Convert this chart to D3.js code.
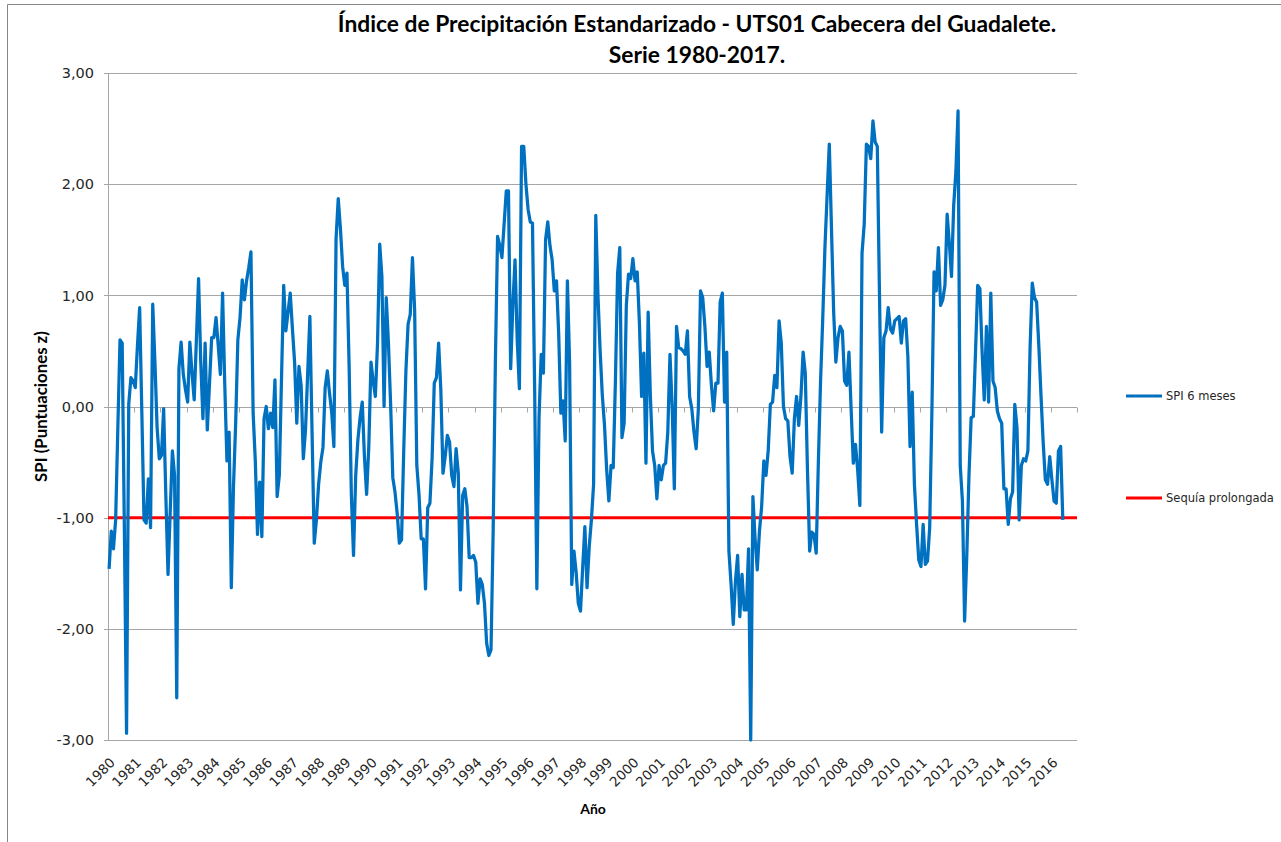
<!DOCTYPE html>
<html>
<head>
<meta charset="utf-8">
<script src="https://cdn.jsdelivr.net/npm/d3@7/dist/d3.min.js"></script>
<style>
  body { margin: 0; background: #fff; }
  text { font-family: "DejaVu Sans", sans-serif; fill: #262626; }
  .bold { font-family: Lato, "DejaVu Sans", sans-serif; font-weight: bold; fill: #000; }
</style>
</head>
<body>
<svg id="chart" width="1281" height="842"></svg>
<script>
// tick labels of the category axis (one label per year, 12 months each)
var years = ["1980","1981","1982","1983","1984","1985","1986","1987","1988","1989",
             "1990","1991","1992","1993","1994","1995","1996","1997","1998","1999",
             "2000","2001","2002","2003","2004","2005","2006","2007","2008","2009",
             "2010","2011","2012","2013","2014","2015","2016"];

var yTicks = [-3, -2, -1, 0, 1, 2, 3];

// SPI 6 meses, monthly values (one row per year)
var spi6 = [
  -1.46, -1.12, -1.28, -1.02, -0.20, 0.60, 0.57, -1.10, -2.94, 0.02, 0.26, 0.23,
  0.17, 0.55, 0.89, -0.05, -1.02, -1.05, -0.65, -1.09, 0.92, 0.40, -0.19, -0.47,
  -0.44, -0.02, -0.80, -1.51, -0.95, -0.40, -0.62, -2.62, 0.34, 0.58, 0.29, 0.15,
  0.04, 0.58, 0.30, 0.06, 0.60, 1.15, 0.40, -0.11, 0.57, -0.21, 0.20, 0.62,
  0.62, 0.80, 0.55, 0.29, 1.02, 0.20, -0.49, -0.23, -1.63, -0.72, -0.15, 0.60,
  0.80, 1.14, 0.96, 1.13, 1.25, 1.39, -0.06, -0.49, -1.15, -0.68, -1.17, -0.11,
  0.00, -0.20, -0.06, -0.19, 0.24, -0.81, -0.62, 0.25, 1.09, 0.68, 0.85, 1.02,
  0.70, 0.40, -0.15, 0.36, 0.19, -0.47, -0.21, 0.30, 0.81, -0.23, -1.23, -1.02,
  -0.70, -0.50, -0.37, 0.17, 0.32, 0.12, -0.05, -0.36, 1.51, 1.87, 1.60, 1.26,
  1.09, 1.20, 0.35, -0.79, -1.34, -0.62, -0.30, -0.10, 0.04, -0.45, -0.79, -0.36,
  0.40, 0.23, 0.09, 0.57, 1.46, 1.17, 0.00, 0.98, 0.57, 0.02, -0.64, -0.77,
  -0.96, -1.23, -1.20, -0.40, 0.32, 0.74, 0.83, 1.34, 0.87, -0.53, -0.79, -1.19,
  -1.19, -1.64, -0.91, -0.87, -0.47, 0.21, 0.26, 0.57, 0.15, -0.60, -0.45, -0.26,
  -0.32, -0.62, -0.72, -0.38, -0.60, -1.65, -0.80, -0.74, -0.90, -1.36, -1.36, -1.34,
  -1.40, -1.77, -1.55, -1.60, -1.77, -2.13, -2.24, -2.19, -1.10, 0.40, 1.53, 1.45,
  1.34, 1.64, 1.94, 1.94, 0.34, 0.91, 1.32, 0.60, 0.16, 2.34, 2.34, 2.00,
  1.77, 1.66, 1.65, 0.15, -1.64, -0.10, 0.47, 0.30, 1.50, 1.66, 1.45, 1.32,
  1.04, 1.13, 0.66, -0.06, 0.05, -0.31, 1.13, 0.40, -1.60, -1.30, -1.49, -1.77,
  -1.84, -1.45, -1.08, -1.63, -1.26, -1.02, -0.70, 1.72, 1.00, 0.50, 0.10, -0.17,
  -0.57, -0.85, -0.53, -0.55, 0.23, 1.20, 1.43, -0.28, -0.15, 0.91, 1.19, 1.15,
  1.33, 1.13, 1.21, 0.75, 0.09, 0.48, -0.51, 0.85, 0.10, -0.40, -0.53, -0.83,
  -0.53, -0.66, -0.53, -0.51, -0.23, 0.47, 0.00, -0.74, 0.72, 0.53, 0.52, 0.50,
  0.47, 0.68, 0.09, -0.02, -0.23, -0.38, -0.02, 1.04, 0.98, 0.72, 0.36, 0.49,
  0.19, -0.04, 0.21, 0.21, 0.94, 1.02, 0.04, 0.49, -1.30, -1.60, -1.96, -1.57,
  -1.34, -1.89, -1.51, -1.83, -1.83, -1.28, -3.00, -0.81, -1.19, -1.47, -1.12, -0.90,
  -0.49, -0.62, -0.40, 0.02, 0.04, 0.28, 0.17, 0.77, 0.57, 0.00, -0.11, -0.13,
  -0.45, -0.60, -0.11, 0.09, -0.17, 0.09, 0.49, 0.30, -0.57, -1.30, -1.13, -1.15,
  -1.32, -0.49, 0.23, 0.79, 1.43, 1.90, 2.36, 1.60, 0.85, 0.40, 0.62, 0.72,
  0.68, 0.23, 0.19, 0.49, -0.02, -0.51, -0.34, -0.57, -0.89, 1.38, 1.64, 2.36,
  2.34, 2.23, 2.57, 2.38, 2.34, 1.00, -0.23, 0.62, 0.68, 0.89, 0.70, 0.66,
  0.77, 0.79, 0.81, 0.57, 0.77, 0.79, 0.45, -0.36, 0.13, -0.70, -1.06, -1.38,
  -1.44, -1.06, -1.42, -1.39, -1.09, -0.06, 1.21, 1.04, 1.43, 0.91, 0.96, 1.09,
  1.73, 1.47, 1.17, 1.81, 2.11, 2.66, -0.53, -0.85, -1.93, -1.34, -0.62, -0.10,
  -0.09, 0.49, 1.09, 1.06, 0.50, 0.06, 0.72, 0.04, 1.02, 0.23, 0.17, -0.04,
  -0.11, -0.15, -0.74, -0.74, -1.06, -0.83, -0.77, 0.02, -0.19, -1.02, -0.53, -0.47,
  -0.49, -0.40, 0.53, 1.11, 0.98, 0.94, 0.55, 0.10, -0.32, -0.66, -0.70, -0.45,
  -0.66, -0.85, -0.87, -0.40, -0.36, -1.02
];

var sequia = -1;   // umbral de sequía prolongada

var seriesNames = ["SPI 6 meses", "Sequía prolongada"];
var seriesColors = ["#0070c0", "#ff0000"];

var titleLines = ["Índice de Precipitación Estandarizado - UTS01 Cabecera del Guadalete.",
                  "Serie 1980-2017."];

var Chart = (function(){
    var width = 1281, height = 842;
    var left = 108, right = 1077, top = 73, bottom = 740;
    var gridColor = "#a6a6a6";
    var svg, x, y, months;

    function fitText(sel, target){
        var fs = parseFloat(sel.style("font-size"));
        var len = sel.node().getComputedTextLength();
        sel.style("font-size", (fs * target / len) + "px");
    }

    function frame(){
        svg = d3.select("#chart");
        svg.append("rect")
            .attr("x", 0).attr("y", 0)
            .attr("width", width).attr("height", height)
            .attr("fill", "#fff");
        svg.append("path")
            .attr("d", "M7.5," + height + "V4.5H" + width)
            .attr("fill", "none")
            .attr("stroke", "#868686")
            .attr("stroke-width", 1);
    }

    function scales(){
        months = d3.range(years.length * 12);
        x = d3.scaleBand().domain(months).range([left, right]).padding(0);
        y = d3.scaleLinear().domain([-3, 3]).range([bottom, top]);
    }

    function axes(){
        // horizontal gridlines + y labels
        var g = svg.append("g").attr("class", "y-axis");
        g.selectAll("line.grid")
            .data(yTicks)
            .enter().append("line")
                .attr("class", "grid")
                .attr("x1", left - 4)
                .attr("x2", right)
                .attr("y1", d => Math.round(y(d)) + 0.5)
                .attr("y2", d => Math.round(y(d)) + 0.5)
                .attr("stroke", gridColor)
                .attr("stroke-width", 1);
        g.append("line")
            .attr("x1", left + 0.5).attr("x2", left + 0.5)
            .attr("y1", top).attr("y2", bottom)
            .attr("stroke", gridColor);
        g.selectAll("text")
            .data(yTicks)
            .enter().append("text")
                .attr("x", 94)
                .attr("y", d => y(d))
                .attr("dy", "0.36em")
                .attr("text-anchor", "end")
                .style("font-size", "14.5px")
                .text(d => d.toFixed(2).replace(".", ","));

        // category axis drawn at y = 0, labels at the bottom
        var xa = svg.append("g").attr("class", "x-axis");
        var y0 = Math.round(y(0)) + 0.5;
        var tickPos = years.map((d, k) => x(k * 12)).concat([right]);
        xa.selectAll("line.tick")
            .data(tickPos)
            .enter().append("line")
                .attr("class", "tick")
                .attr("x1", d => Math.round(d) + 0.5)
                .attr("x2", d => Math.round(d) + 0.5)
                .attr("y1", y0)
                .attr("y2", y0 + 5)
                .attr("stroke", gridColor);
        xa.selectAll("text")
            .data(years)
            .enter().append("text")
                .attr("transform", (d, k) => "translate(" + (x(k * 12) + 4.5) + "," + (bottom + 20) + ") rotate(-45)")
                .attr("text-anchor", "end")
                .attr("dy", "0.35em")
                .style("font-size", "13.5px")
                .text(d => d);
    }

    function series(){
        var line = d3.line()
            .x((d, i) => x(i) + x.bandwidth() / 2)
            .y(d => y(d));

        // threshold line across the whole category axis
        svg.append("line")
            .attr("x1", x.range()[0])
            .attr("x2", x.range()[1])
            .attr("y1", y(sequia))
            .attr("y2", y(sequia))
            .attr("stroke", seriesColors[1])
            .attr("stroke-width", 3);

        svg.append("path")
            .datum(spi6)
            .attr("d", line)
            .attr("fill", "none")
            .attr("stroke", seriesColors[0])
            .attr("stroke-width", 3.25)
            .attr("stroke-linejoin", "round");
    }

    function legend(){
        var ly = [396, 498];
        var lg = svg.append("g").attr("class", "legend");
        lg.selectAll("line")
            .data(seriesNames)
            .enter().append("line")
                .attr("x1", 1126).attr("x2", 1162)
                .attr("y1", (d, i) => ly[i]).attr("y2", (d, i) => ly[i])
                .attr("stroke", (d, i) => seriesColors[i])
                .attr("stroke-width", 3);
        lg.selectAll("text")
            .data(seriesNames)
            .enter().append("text")
                .attr("x", 1166)
                .attr("y", (d, i) => ly[i])
                .attr("dy", "0.35em")
                .style("font-size", "11.5px")
                .text(d => d);
    }

    function titles(){
        var t1 = svg.append("text").attr("class", "bold")
            .attr("x", 697).attr("y", 32)
            .attr("text-anchor", "middle")
            .style("font-size", "20px")
            .text(titleLines[0]);
        fitText(t1, 719);
        svg.append("text").attr("class", "bold")
            .attr("x", 697).attr("y", 63)
            .attr("text-anchor", "middle")
            .style("font-size", t1.style("font-size"))
            .text(titleLines[1]);

        var yt = svg.append("text").attr("class", "bold")
            .attr("transform", "translate(47," + y(0) + ") rotate(-90)")
            .attr("text-anchor", "middle")
            .style("font-size", "14px")
            .text("SPI (Puntuaciones z)");
        fitText(yt, 151);

        svg.append("text").attr("class", "bold")
            .attr("x", 593).attr("y", 814)
            .attr("text-anchor", "middle")
            .style("font-size", "14px")
            .text("Año");
    }

    return {
        init: function(){
            frame();
            scales();
            axes();
            series();
            legend();
            titles();
        }
    };
})();

Chart.init();
</script>
</body>
</html>
